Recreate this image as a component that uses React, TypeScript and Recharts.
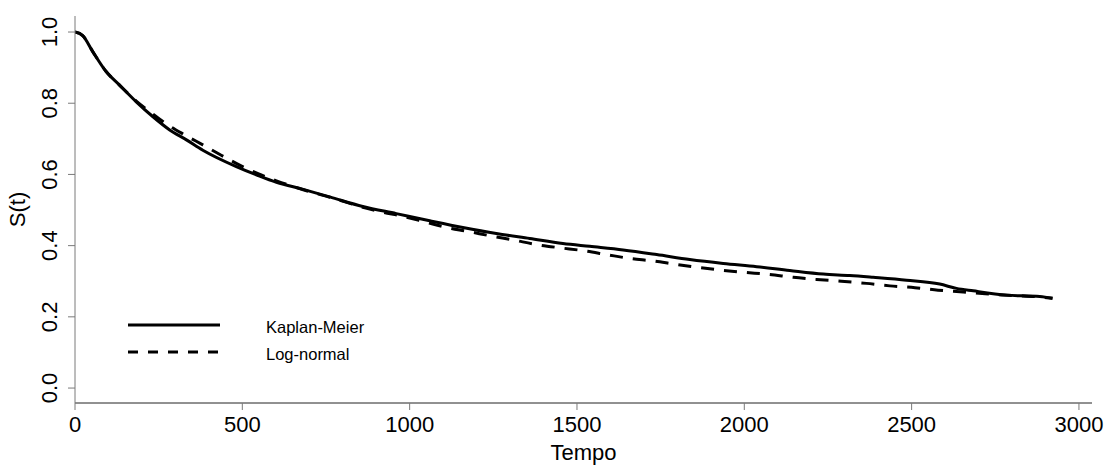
import React from 'react';
import { LineChart, Line, XAxis, YAxis, Label } from 'recharts';

// Kaplan-Meier estimate (time, survival)
const kmTimes = [0, 23, 53, 93, 133, 183, 233, 283, 333, 382, 482, 547, 602, 682, 761, 860, 960, 1060, 1159, 1259, 1359, 1458, 1538, 1638, 1738, 1837, 1937, 2037, 2136, 2236, 2315, 2385, 2485, 2584, 2634, 2684, 2784, 2883, 2921];
const kmSurv = [1.0, 0.99, 0.945, 0.889, 0.851, 0.804, 0.762, 0.725, 0.697, 0.668, 0.622, 0.597, 0.578, 0.558, 0.537, 0.51, 0.49, 0.47, 0.451, 0.434, 0.42, 0.406, 0.398, 0.388, 0.375, 0.361, 0.35, 0.341, 0.33, 0.32, 0.316, 0.311, 0.303, 0.292, 0.28, 0.273, 0.261, 0.257, 0.252];

// fitted log-normal survival curve
const lnTimes = [0, 23, 53, 93, 133, 183, 224, 273, 328, 382, 437, 492, 547, 602, 682, 761, 860, 910, 980, 1040, 1110, 1174, 1244, 1309, 1379, 1448, 1518, 1588, 1658, 1727, 1792, 1862, 1932, 2001, 2076, 2146, 2216, 2290, 2365, 2435, 2510, 2579, 2654, 2720, 2800, 2880, 2921];
const lnSurv = [1.0, 0.99, 0.945, 0.889, 0.851, 0.806, 0.776, 0.742, 0.711, 0.683, 0.654, 0.626, 0.602, 0.582, 0.557, 0.536, 0.508, 0.496, 0.482, 0.468, 0.451, 0.44, 0.427, 0.416, 0.403, 0.394, 0.386, 0.375, 0.364, 0.357, 0.348, 0.339, 0.331, 0.325, 0.319, 0.311, 0.305, 0.3, 0.294, 0.287, 0.282, 0.275, 0.27, 0.265, 0.26, 0.256, 0.252];

const seriesNames = ['Kaplan-Meier', 'Log-normal'];
const xTicks = [0, 500, 1000, 1500, 2000, 2500, 3000];
const yTicks = [0, 0.2, 0.4, 0.6, 0.8, 1.0];

const kmData = kmTimes.map((t, i) => ({ t, s: kmSurv[i] }));
const lnData = lnTimes.map((t, i) => ({ t, s: lnSurv[i] }));

const FONT = '"Liberation Sans", Arial, sans-serif';
const BOX = '#7a7a7a';

const YTick = (props: any) => {
  const { x, y, payload } = props;
  return (
    <text
      transform={`translate(${x - 9}, ${y}) rotate(-90)`}
      textAnchor="middle"
      fontSize={22}
      fontFamily={FONT}
      fill="#000"
    >
      {payload.value.toFixed(1)}
    </text>
  );
};

// legend box in the lower left, drawn over the chart
const SurvLegend = () => (
  <svg width={1105} height={465} style={{ position: 'absolute', left: 0, top: 0, pointerEvents: 'none' }}>
    {seriesNames.map((name, i) => {
      const y = 325 + i * 27;
      return (
        <g key={name}>
          <line
            x1={128}
            x2={220}
            y1={y}
            y2={y}
            stroke="#000"
            strokeWidth={3}
            strokeDasharray={i === 1 ? '10 10' : undefined}
          />
          <text x={266} y={y + 8} fontSize={16.5} fontFamily={FONT} fill="#000">
            {name}
          </text>
        </g>
      );
    })}
  </svg>
);

export default function App() {
  return (
    <div style={{ position: 'absolute', left: 0, top: 0, width: 1105, height: 465, background: '#fff' }}>
      <LineChart width={1105} height={465} margin={{ top: 16, right: 13, left: 15, bottom: 22 }}>
        <XAxis
          dataKey="t"
          type="number"
          domain={[0, 3039]}
          ticks={xTicks}
          allowDataOverflow
          tickSize={7}
          tickMargin={6}
          height={40}
          axisLine={{ stroke: '#222' }}
          tickLine={{ stroke: BOX }}
          tick={{ fill: '#000', fontSize: 22, fontFamily: FONT }}
        >
          <Label
            content={() => (
              <text x={583.5} y={460} textAnchor="middle" fontSize={22} fontFamily={FONT} fill="#000">
                Tempo
              </text>
            )}
          />
        </XAxis>
        <XAxis xAxisId="top" orientation="top" type="number" domain={[0, 1]} height={0} tick={false} tickLine={false} axisLine={{ stroke: BOX }} />
        <YAxis
          dataKey="s"
          type="number"
          domain={[-0.042, 1.045]}
          ticks={yTicks}
          allowDataOverflow
          width={60}
          tickSize={7}
          tickMargin={2}
          axisLine={{ stroke: BOX }}
          tickLine={{ stroke: BOX }}
          tick={<YTick />}
        >
          <Label
            content={() => (
              <text
                transform="translate(25, 209.5) rotate(-90)"
                textAnchor="middle"
                fontSize={22}
                fontFamily={FONT}
                fill="#000"
              >
                S(t)
              </text>
            )}
          />
        </YAxis>
        <YAxis yAxisId="right" orientation="right" type="number" domain={[0, 1]} width={0} tick={false} tickLine={false} axisLine={{ stroke: BOX }} />
        <Line
          data={kmData}
          dataKey="s"
          name={seriesNames[0]}
          type="monotone"
          stroke="#000"
          strokeWidth={3}
          dot={false}
          isAnimationActive={false}
        />
        <Line
          data={lnData}
          dataKey="s"
          name={seriesNames[1]}
          type="monotone"
          stroke="#000"
          strokeWidth={3}
          strokeDasharray="13 10"
          dot={false}
          isAnimationActive={false}
        />
      </LineChart>
      <SurvLegend />
    </div>
  );
}
